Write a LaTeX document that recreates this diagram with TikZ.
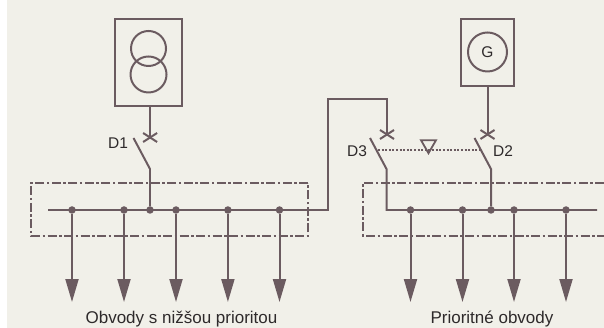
\documentclass[tikz,border=0pt]{standalone}
\usepackage{fontspec}
\setmainfont{Liberation Sans}
\usetikzlibrary{arrows.meta,shapes.geometric}
\definecolor{linecol}{HTML}{6B5B60}
\definecolor{papercol}{HTML}{F1F0E9}
\definecolor{textcol}{HTML}{2E2A2B}
\tikzset{
	wire/.style={draw=linecol, line width=1.99pt},
	housing/.style={draw=linecol, line width=1.99pt, inner sep=0pt},
	frame/.style={draw=linecol, line width=1.5pt, dash pattern=on 9pt off 2.5pt on 2.5pt off 2.5pt},
	feeder/.style={wire, -{Triangle[length=23pt,width=13pt]}},
	junction/.style={circle, fill=linecol, inner sep=0pt, minimum size=7.5pt},
	label/.style={text=textcol, font=\fontsize{15.5}{17}\selectfont, inner sep=0pt},
	caption/.style={text=textcol, font=\fontsize{17}{19}\selectfont, inner sep=0pt, anchor=base}
}
\begin{document}
\begin{tikzpicture}[x=1pt, y=-1pt]
\useasboundingbox (0, 0) rectangle (604, 328);
\fill[papercol] (7, 0) rectangle (604, 328);

% sources
\node[housing, minimum width=67pt, minimum height=87pt] (trafo) at (148.5, 62.5) {};
\node[circle, housing, minimum size=35pt] (t1) at (148.5, 48.5) {};
\node[circle, housing, minimum size=36pt] (t2) at (148.5, 74.5) {};
\node[housing, minimum width=53pt, minimum height=67pt] (genbox) at (487.5, 52.5) {};
\node[circle, housing, minimum size=39pt, label] (gen) at (487.5, 52) {G};

% frames
\draw[frame] (308, 183) -- (31, 183) -- (31, 236) -- (308, 236) -- cycle;
\draw[frame] (604, 183) -- (363, 183) -- (363, 236) -- (604, 236);

% switches
\coordinate (c1) at (150.1, 137.5);
\coordinate (c2) at (487.5, 134.5);
\coordinate (c3) at (387, 134.5);
\coordinate (b1t) at (133.5, 138);
\coordinate (b1b) at (150, 169);
\coordinate (b2t) at (474.5, 138);
\coordinate (b2b) at (491, 169);
\coordinate (b3t) at (370, 138);
\coordinate (b3b) at (386.5, 169);
\foreach \c in {c1,c2,c3} {
	\draw[wire] ([shift={(-7,-4.5)}]\c) -- ([shift={(7,4.5)}]\c);
	\draw[wire] ([shift={(-7,4.5)}]\c) -- ([shift={(7,-4.5)}]\c);
}
\draw[wire] (trafo.south -| c1) -- (c1);
\draw[wire] (genbox.south) -- (c2);

% buses
\coordinate (busL) at (48, 210);
\coordinate (tieA) at (328, 210);
\coordinate (tieB) at (328, 99);
\coordinate (tieC) at (387, 99);
\coordinate (busR) at (597, 210);
\coordinate (corner) at (386.5, 210);
\draw[wire] (busL) -- (tieA) -- (tieB) -- (tieC) -- (c3);
\draw[wire] (b3t) -- (b3b) -- (corner) -- (busR);

\node[junction] (j1) at (150, 210) {};
\node[junction] (j2) at (491, 210) {};
\draw[wire] (b1t) -- (b1b) -- (j1);
\draw[wire] (b2t) -- (b2b) -- (j2);

% outgoing circuits
\foreach \x/\n in {72/a,124/b,176/c,227.9/d,279.5/e,410.5/f,462.5/g,514/h,566/i} {
	\node[junction] (n\n) at (\x, 210) {};
	\coordinate (o\n) at (\x, 302);
	\draw[feeder] (n\n) -- (o\n);
}

% interlock
\node[isosceles triangle, isosceles triangle apex angle=60, shape border rotate=-90, draw=linecol, line width=1.8pt, fill=papercol, inner sep=0pt, minimum height=13pt, anchor=apex] (lock) at (428.5, 155) {};
\coordinate (d3) at (378, 150.1);
\coordinate (d2) at (479, 150.1);
\draw[draw=linecol, line width=1.99pt, dash pattern=on 2pt off 1.6pt] (d3) -- (lock.center |- d3) (lock.center |- d2) -- (d2);

% labels
\node[label] (d1l) at (118, 143) {D1};
\node[label] (d3l) at (357, 151) {D3};
\node[label] (d2l) at (503, 151) {D2};
\node[caption] (low) at (181.5, 323.5) {Obvody s nižšou prioritou};
\node[caption] (high) at (492, 323.5) {Prioritné obvody};
\end{tikzpicture}
\end{document}
